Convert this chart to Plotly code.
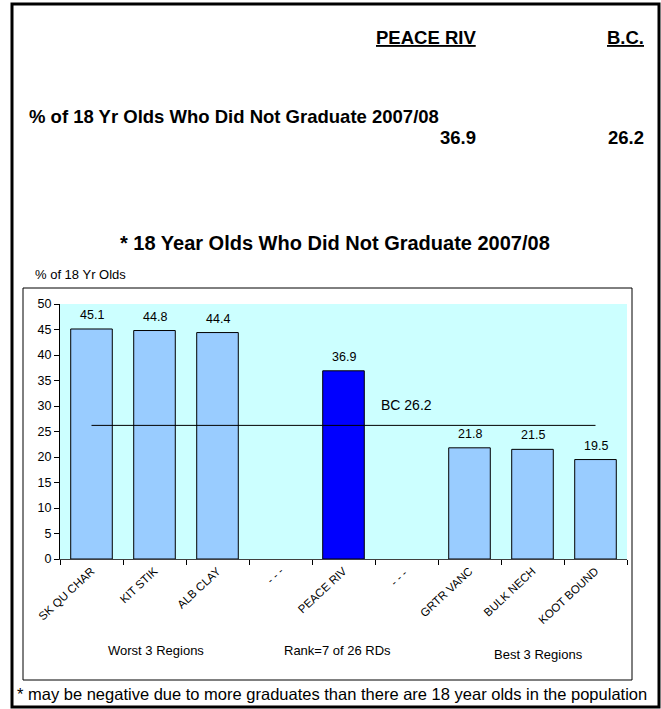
import plotly.graph_objects as go

# ---------------- data ----------------
categories = ["SK QU CHAR", "KIT STIK", "ALB CLAY", "- - -", "PEACE RIV",
              "- - - ", "GRTR VANC", "BULK NECH", "KOOT BOUND"]
values = [45.1, 44.8, 44.4, None, 36.9, None, 21.8, 21.5, 19.5]
highlight_region = "PEACE RIV"
bc_value = 26.2
region_value = 36.9
y_tick_values = [0, 5, 10, 15, 20, 25, 30, 35, 40, 45, 50]
group_labels = ["Worst 3 Regions", "Rank=7 of 26 RDs", "Best 3 Regions"]
indicator_label = "% of 18 Yr Olds Who Did Not Graduate 2007/08"
chart_title = "* 18 Year Olds Who Did Not Graduate 2007/08"
y_axis_title = "% of 18 Yr Olds"
footnote = "* may be negative due to more graduates than there are 18 year olds in the population"

# ---------------- layout helpers ----------------
FIG_W, FIG_H = 661, 709
L, R, T, B = 60, 627, 304, 559
FONT = "Liberation Sans, Arial, sans-serif"


def px(x):
    return (x - L) / (R - L)


def py(y):
    return (B - y) / (B - T)


bar_colors = ["#0000FF" if c == highlight_region else "#99CCFF" for c in categories]

fig = go.Figure()
fig.add_trace(go.Bar(
    x=categories, y=values,
    marker=dict(color=bar_colors, line=dict(color="#000000", width=1)),
    hoverinfo="x+y", showlegend=False,
))
fig.add_trace(go.Scatter(
    x=categories, y=[bc_value] * len(categories),
    mode="lines", line=dict(color="#000000", width=1),
    hoverinfo="skip", showlegend=False,
))

annotations = []
for c, v in zip(categories, values):
    if v is None:
        continue
    annotations.append(dict(
        x=c, y=v, xref="x", yref="y", text=f"{v}", showarrow=False,
        yshift=14, font=dict(family=FONT, size=12.5, color="#000000"),
    ))
annotations.append(dict(
    x=categories[5], y=bc_value, xref="x", yref="y", text=f"BC {bc_value}",
    showarrow=False, yshift=20, font=dict(family=FONT, size=14, color="#000000"),
))

bold18 = dict(family=FONT, size=18.5, color="#000000")
annotations += [
    dict(x=px(478), y=py(37), xref="paper", yref="paper", xanchor="right", yanchor="middle",
         text=f"<b><u>{highlight_region}</u></b>", showarrow=False, font=bold18),
    dict(x=px(646), y=py(37), xref="paper", yref="paper", xanchor="right", yanchor="middle",
         text="<b><u>B.C.</u></b>", showarrow=False, font=bold18),
    dict(x=px(27), y=py(117), xref="paper", yref="paper", xanchor="left", yanchor="middle",
         text=f"<b>{indicator_label}</b>", showarrow=False, font=bold18),
    dict(x=px(478), y=py(137), xref="paper", yref="paper", xanchor="right", yanchor="middle",
         text=f"<b>{region_value}</b>", showarrow=False, font=bold18),
    dict(x=px(646), y=py(137), xref="paper", yref="paper", xanchor="right", yanchor="middle",
         text=f"<b>{bc_value}</b>", showarrow=False, font=bold18),
    dict(x=px(335), y=py(243), xref="paper", yref="paper", xanchor="center", yanchor="middle",
         text=f"<b>{chart_title}</b>", showarrow=False,
         font=dict(family=FONT, size=20, color="#000000")),
    dict(x=px(33), y=py(274), xref="paper", yref="paper", xanchor="left", yanchor="middle",
         text=y_axis_title, showarrow=False,
         font=dict(family=FONT, size=13, color="#000000")),
    dict(x=px(156), y=py(650), xref="paper", yref="paper", xanchor="center", yanchor="middle",
         text=group_labels[0], showarrow=False, font=dict(family=FONT, size=13, color="#000000")),
    dict(x=px(337), y=py(650), xref="paper", yref="paper", xanchor="center", yanchor="middle",
         text=group_labels[1], showarrow=False, font=dict(family=FONT, size=13, color="#000000")),
    dict(x=px(538), y=py(654), xref="paper", yref="paper", xanchor="center", yanchor="middle",
         text=group_labels[2], showarrow=False, font=dict(family=FONT, size=13, color="#000000")),
    dict(x=px(332), y=py(694), xref="paper", yref="paper", xanchor="center", yanchor="middle",
         text=footnote, showarrow=False, font=dict(family=FONT, size=16.5, color="#000000")),
]

shapes = [
    # outer frame
    dict(type="rect", xref="paper", yref="paper", x0=px(12), x1=px(659), y0=py(4), y1=py(707),
         line=dict(color="#000000", width=3), fillcolor="rgba(0,0,0,0)"),
    # inner chart frame
    dict(type="rect", xref="paper", yref="paper", x0=px(23), x1=px(632), y0=py(288), y1=py(680),
         line=dict(color="#000000", width=1), fillcolor="rgba(0,0,0,0)"),
]

fig.update_layout(
    width=FIG_W, height=FIG_H,
    margin=dict(l=L, r=FIG_W - R, t=T, b=FIG_H - B, pad=0),
    paper_bgcolor="#FFFFFF", plot_bgcolor="#CCFFFF",
    bargap=0.34,
    font=dict(family=FONT, size=12, color="#000000"),
    annotations=annotations, shapes=shapes,
    showlegend=False,
)
fig.update_xaxes(
    type="category", categoryorder="array", categoryarray=categories,
    tickson="boundaries", ticks="outside", ticklen=5, tickcolor="#000000",
    showline=True, linecolor="#404040", linewidth=1,
    showgrid=False, zeroline=False, tickangle=-43,
    tickfont=dict(family=FONT, size=11.5, color="#000000"),
)
fig.update_yaxes(
    range=[0, 50], tickmode="array", tickvals=y_tick_values,
    ticks="outside", ticklen=5, tickcolor="#000000",
    showline=True, linecolor="#000000", linewidth=1,
    showgrid=False, zeroline=False,
    tickfont=dict(family=FONT, size=12.5, color="#000000"),
)

fig.write_html(
    "out.html",
    config={"displayModeBar": False},
    post_script="document.body.style.margin='0';document.body.style.overflow='hidden';",
)
